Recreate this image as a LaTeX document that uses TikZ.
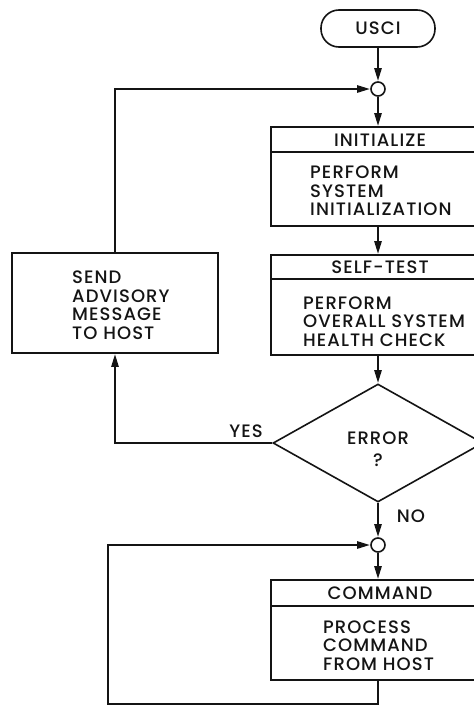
\documentclass[tikz,border=0pt]{standalone}
\usepackage{fontspec}
\setmainfont{Poppins}[UprightFont=* Medium, LetterSpace=6]
\usepackage{tikz}
\usetikzlibrary{positioning, arrows.meta, shapes.geometric, calc}
\definecolor{inkBlack}{RGB}{20,20,20}

\tikzset{
  flowArrow/.style={draw=inkBlack, line width=2.4pt, -{Triangle[length=13pt,width=7pt]}},
  boxLine/.style={draw=inkBlack, line width=1.6pt},
  procBox/.style={boxLine, rectangle, inner sep=0pt},
  headText/.style={font=\fontsize{18}{18.5}\selectfont, text=inkBlack, inner sep=0pt},
  bodyText/.style={font=\fontsize{18}{18.5}\selectfont, text=inkBlack, align=left, anchor=west, inner sep=0pt},
  joinDot/.style={boxLine, circle, minimum size=14pt, inner sep=0pt, fill=white},
}

\begin{document}
\begin{tikzpicture}[x=1pt, y=-1pt]
				\useasboundingbox (0,0) rectangle (474,707);
				\fill[white] (0,0) rectangle (474,707);
				\clip (0,0) rectangle (474,707);
				% Start terminal and first junction
				\node[boxLine, rounded corners=18pt, minimum width=114pt, minimum height=37pt, inner sep=0pt] (usci) at (378,28.5) {};
				\node[headText] at (usci) {USCI};
				\node[joinDot] (c1) at (378,89) {};
				% Initialize block
				\node[procBox, minimum width=214pt, minimum height=99pt] (init) at (378,176.5) {};
				\draw[boxLine] ($(init.north west)+(0,26)$) -- ($(init.north east)+(0,26)$);
				\node[headText] (initHead) at (380,140) {INITIALIZE};
				\node[bodyText] (initBody) at (310,191) {PERFORM\\SYSTEM\\INITIALIZATION};
				% Self-test block
				\node[procBox, minimum width=214pt, minimum height=100pt] (self) at (378,305) {};
				\draw[boxLine] ($(self.north west)+(0,25)$) -- ($(self.north east)+(0,25)$);
				\node[headText] (selfHead) at (380,267.5) {SELF-TEST};
				\node[bodyText] (selfBody) at (303,321.5) {PERFORM\\OVERALL SYSTEM\\HEALTH CHECK};
				% Error decision
				\node[boxLine, diamond, minimum width=210pt, minimum height=118pt, inner sep=0pt] (dia) at (378,443) {};
				\node[headText, align=center, font=\fontsize{18}{22}\selectfont] (diaText) at (378,449) {ERROR\\?};
				\node[headText] (yesLbl) at (246,431) {YES};
				\node[headText] (noLbl) at (411,516) {NO};
				% Advisory message
				\node[procBox, minimum width=206pt, minimum height=100pt] (send) at (115,303) {};
				\node[bodyText] (sendBody) at (72,305) {SEND\\ADVISORY\\MESSAGE\\TO HOST};
				% Command loop
				\node[joinDot] (c2) at (378,545) {};
				\node[procBox, minimum width=214pt, minimum height=100pt] (cmd) at (378,630) {};
				\draw[boxLine] ($(cmd.north west)+(0,27)$) -- ($(cmd.north east)+(0,27)$);
				\node[headText] (cmdHead) at (380,593.5) {COMMAND};
				\node[bodyText] (cmdBody) at (323,645.5) {PROCESS\\COMMAND\\FROM HOST};
				\coordinate (loopB) at (108,704);
				% Connectors
				\draw[flowArrow] (usci) -- (c1);
				\draw[flowArrow] (c1) -- (init);
				\draw[flowArrow] (init) -- (self);
				\draw[flowArrow] (self) -- (dia);
				\draw[flowArrow] (dia.west) -| (send.south);
				\draw[flowArrow] (send.north) |- (c1.west);
				\draw[flowArrow] (dia.south) -- (c2);
				\draw[flowArrow] (c2) -- (cmd);
				\draw[flowArrow] (cmd.south) |- (loopB) |- (c2.west);
			\end{tikzpicture}
\end{document}
